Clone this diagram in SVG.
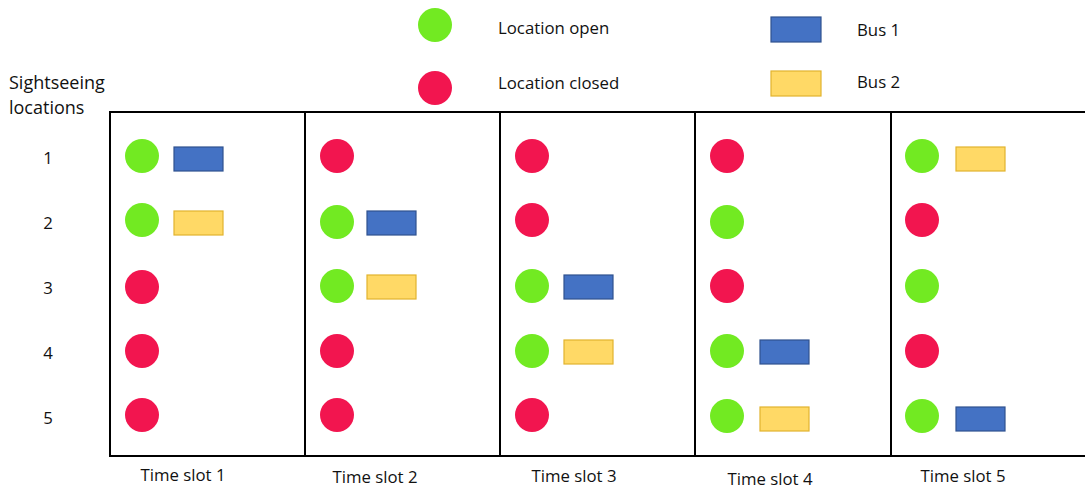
<svg xmlns="http://www.w3.org/2000/svg" width="1085" height="489" viewBox="0 0 1085 489">
<style>
text{font-family:"Open Sans","Liberation Sans",sans-serif;font-size:16.8px;fill:#111}
.big{font-size:18px}
.g{fill:#72EA22}
.r{fill:#F2154F}
.b{fill:#4472C4;stroke:#2F528F;stroke-width:1.2}
.y{fill:#FFD966;stroke:#E2B32E;stroke-width:1.2}
.frame{fill:none;stroke:#000;stroke-width:2}
.c{text-anchor:middle}
</style>
<rect width="1085" height="489" fill="#fff"/>
<g id="legend">
<circle class="g" cx="435" cy="25" r="17"/>
<text x="498" y="34">Location open</text>
<circle class="r" cx="435" cy="88" r="17"/>
<text x="498" y="89">Location closed</text>
<rect class="b" x="771" y="17" width="50" height="25"/>
<text x="857" y="36">Bus 1</text>
<rect class="y" x="771" y="71" width="50" height="25"/>
<text x="857" y="88">Bus 2</text>
</g>
<g id="axis-labels">
<text class="big" x="9" y="89">Sightseeing</text>
<text class="big" x="9" y="114">locations</text>
<text class="c" x="48" y="164">1</text>
<text class="c" x="48" y="229">2</text>
<text class="c" x="48" y="294">3</text>
<text class="c" x="48" y="359">4</text>
<text class="c" x="48" y="424">5</text>
<text class="c" x="183" y="481">Time slot 1</text>
<text class="c" x="375" y="483">Time slot 2</text>
<text class="c" x="574" y="482">Time slot 3</text>
<text class="c" x="770" y="485">Time slot 4</text>
<text class="c" x="963" y="482">Time slot 5</text>
</g>
<g id="grid">
<path class="frame" d="M1085 112H110V456H1085"/>
<path class="frame" d="M305 112V456M500 112V456M695 112V456M891 112V456"/>
</g>
<g id="slot1">
<circle class="g" cx="142" cy="156" r="17"/><rect class="b" x="174" y="147" width="49" height="24"/>
<circle class="g" cx="142" cy="220" r="17"/><rect class="y" x="174" y="211" width="49" height="24"/>
<circle class="r" cx="142" cy="287" r="17"/>
<circle class="r" cx="142" cy="351" r="17"/>
<circle class="r" cx="142" cy="415" r="17"/>
</g>
<g id="slot2">
<circle class="r" cx="337" cy="156" r="17"/>
<circle class="g" cx="337" cy="222" r="17"/><rect class="b" x="367" y="211" width="49" height="24"/>
<circle class="g" cx="337" cy="286" r="17"/><rect class="y" x="367" y="275" width="49" height="24"/>
<circle class="r" cx="337" cy="351" r="17"/>
<circle class="r" cx="337" cy="415" r="17"/>
</g>
<g id="slot3">
<circle class="r" cx="532" cy="156" r="17"/>
<circle class="r" cx="532" cy="220" r="17"/>
<circle class="g" cx="532" cy="286" r="17"/><rect class="b" x="564" y="275" width="49" height="24"/>
<circle class="g" cx="532" cy="351" r="17"/><rect class="y" x="564" y="340" width="49" height="24"/>
<circle class="r" cx="532" cy="415" r="17"/>
</g>
<g id="slot4">
<circle class="r" cx="727" cy="156" r="17"/>
<circle class="g" cx="727" cy="222" r="17"/>
<circle class="r" cx="727" cy="286" r="17"/>
<circle class="g" cx="727" cy="351" r="17"/><rect class="b" x="760" y="340" width="49" height="24"/>
<circle class="g" cx="727" cy="416" r="17"/><rect class="y" x="760" y="407" width="49" height="24"/>
</g>
<g id="slot5">
<circle class="g" cx="922" cy="156" r="17"/><rect class="y" x="956" y="147" width="49" height="24"/>
<circle class="r" cx="922" cy="220" r="17"/>
<circle class="g" cx="922" cy="286" r="17"/>
<circle class="r" cx="922" cy="351" r="17"/>
<circle class="g" cx="922" cy="416" r="17"/><rect class="b" x="956" y="407" width="49" height="24"/>
</g>
</svg>
